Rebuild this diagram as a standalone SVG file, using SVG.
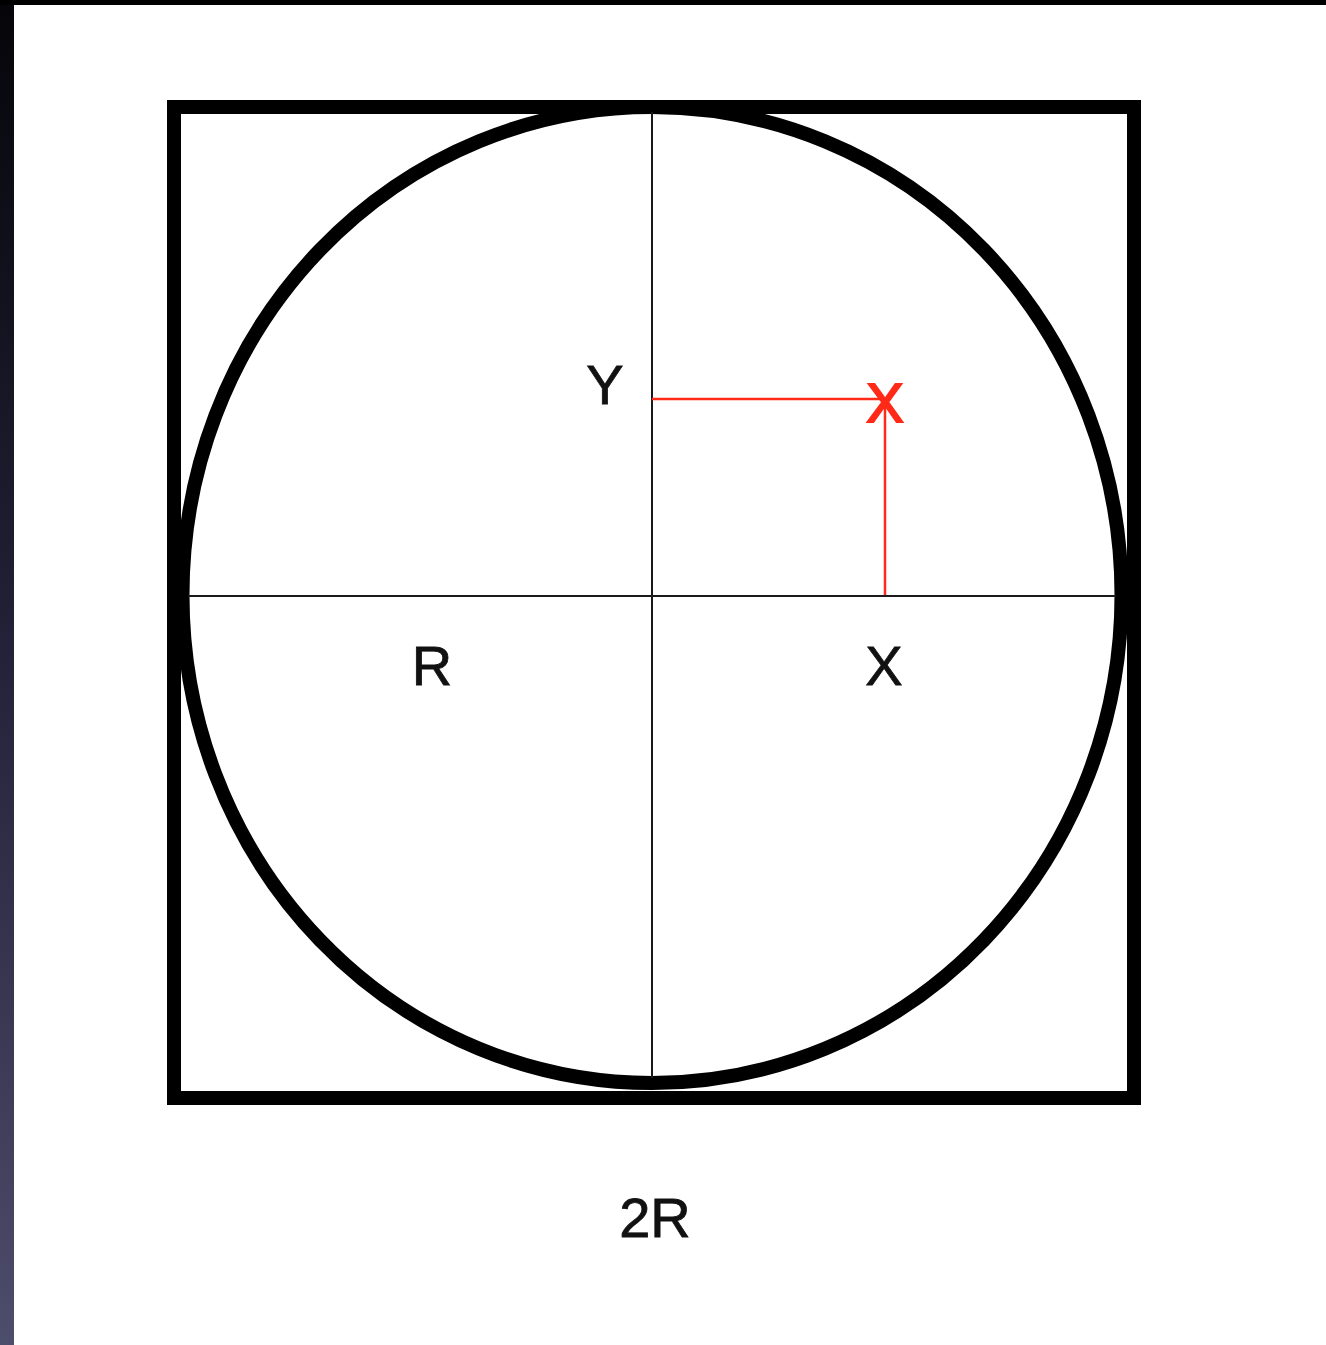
<svg xmlns="http://www.w3.org/2000/svg" width="1326" height="1345" viewBox="0 0 1326 1345">
  <defs>
    <linearGradient id="edge" x1="0" y1="0" x2="0" y2="1">
      <stop offset="0" stop-color="#050509"/>
      <stop offset="0.5" stop-color="#23233a"/>
      <stop offset="1" stop-color="#4d4d6c"/>
    </linearGradient>
  </defs>
  <style>
    .lbl { font-family: "Liberation Sans", Arial, sans-serif; font-size: 56px; fill: #111; stroke: #111; stroke-width: 0.8; text-anchor: middle; }
    .red { fill: #ff2a17; stroke: #ff2a17; stroke-width: 2; }
    .thin { stroke: #1a1a1a; stroke-width: 2; fill: none; }
    .redline { stroke: #ff2a17; stroke-width: 2.5; fill: none; }
  </style>
  <rect x="0" y="0" width="1326" height="1345" fill="#ffffff"/>
  <rect x="0" y="0" width="14" height="1345" fill="url(#edge)"/>
  <rect x="0" y="0" width="1326" height="5" fill="#000000"/>

  <g id="square">
    <rect x="174" y="107" width="960" height="991" fill="none" stroke="#000" stroke-width="14"/>
  </g>
  <g id="circle">
    <ellipse cx="652" cy="595" rx="469.5" ry="488" fill="none" stroke="#000" stroke-width="14"/>
  </g>
  <g id="connectors">
    <line class="thin" x1="652" y1="112" x2="652" y2="1078"/>
    <line class="thin" x1="188" y1="596" x2="1116" y2="596"/>
    <line class="redline" x1="652" y1="399" x2="885" y2="399"/>
    <line class="redline" x1="885" y1="399" x2="885" y2="595"/>
  </g>
  <g id="labels">
    <text class="lbl" x="605" y="404">Y</text>
    <text class="lbl red" x="885" y="422">X</text>
    <text class="lbl" x="432" y="685">R</text>
    <text class="lbl" x="884" y="685">X</text>
    <text class="lbl" x="655" y="1237">2R</text>
  </g>
</svg>
